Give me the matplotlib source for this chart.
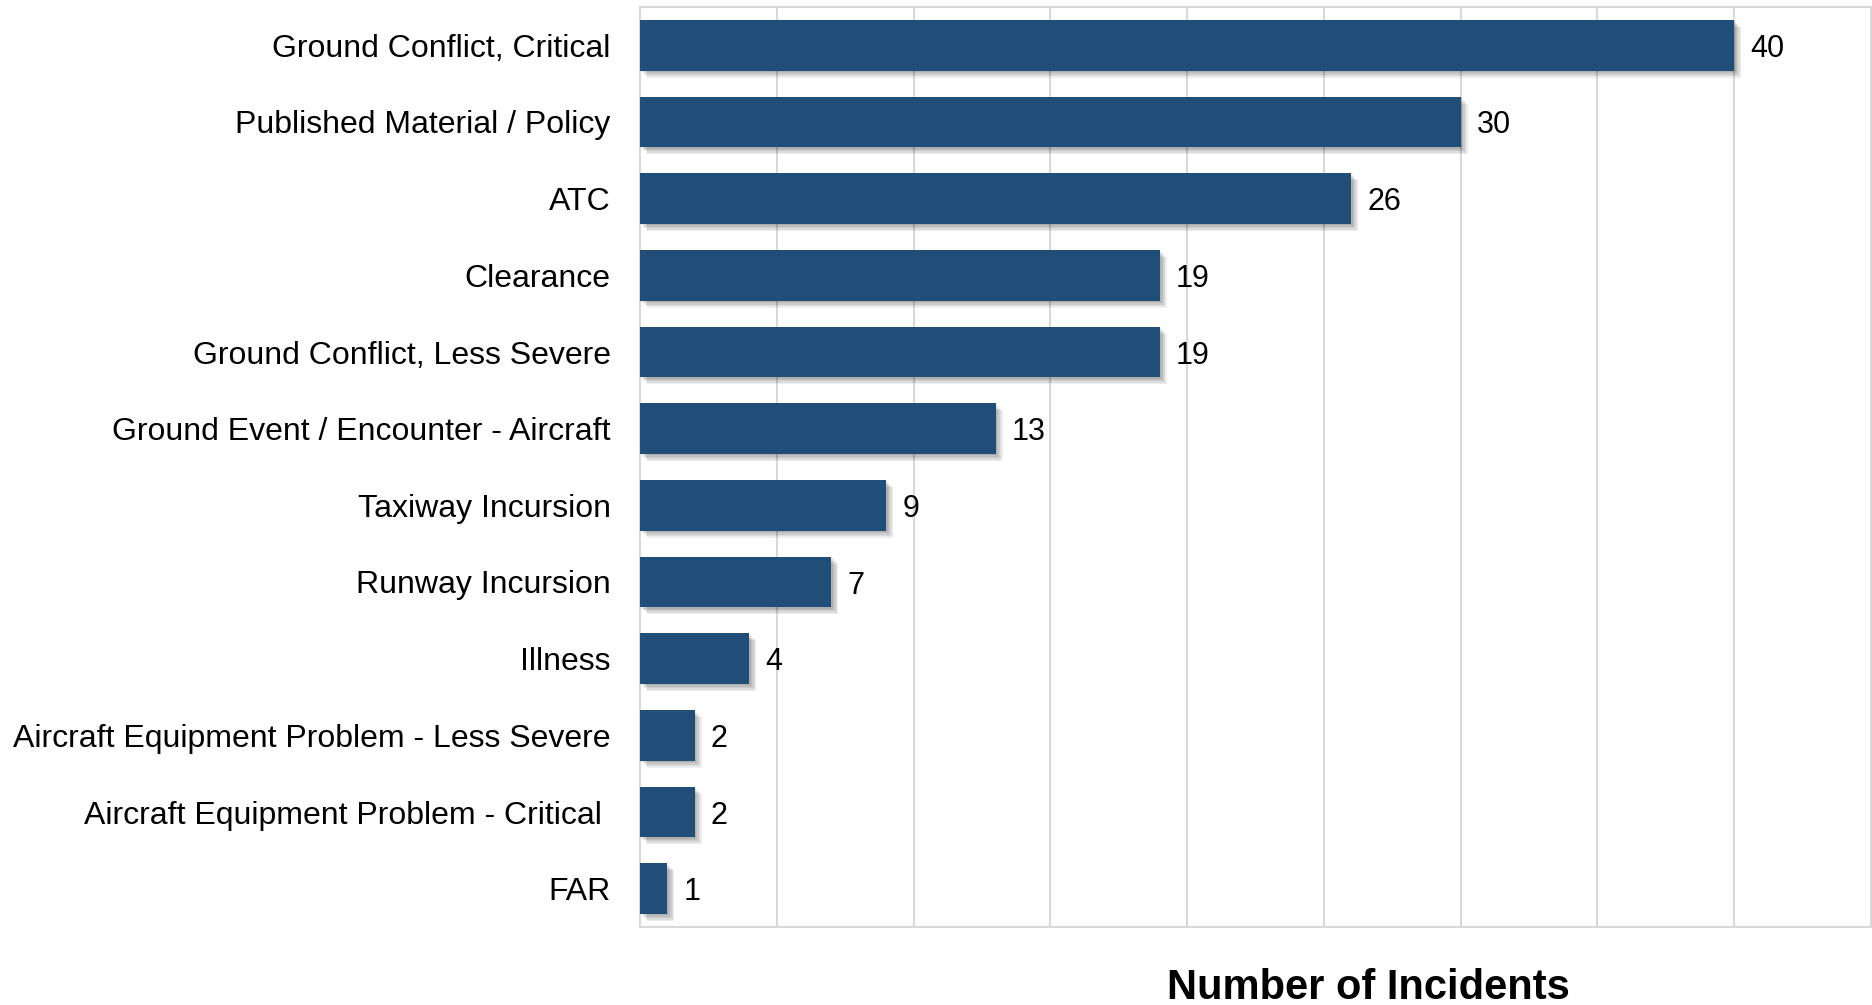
import matplotlib
matplotlib.use("Agg")
import matplotlib.pyplot as plt
import matplotlib.patheffects as pe
import numpy as np

categories = [
    "Ground Conflict, Critical",
    "Published Material / Policy",
    "ATC",
    "Clearance",
    "Ground Conflict, Less Severe",
    "Ground Event / Encounter - Aircraft",
    "Taxiway Incursion",
    "Runway Incursion",
    "Illness",
    "Aircraft Equipment Problem - Less Severe",
    "Aircraft Equipment Problem - Critical ",
    "FAR",
]
incidents = [40, 30, 26, 19, 19, 13, 9, 7, 4, 2, 2, 1]
x_label = "Number of Incidents"

plt.rcParams["font.family"] = ["Liberation Sans", "DejaVu Sans"]

bar_color = "#204E78"
grid_color = "#D9D9D9"

fig = plt.figure(figsize=(18.72, 10.05), dpi=100)
ax = fig.add_axes([640 / 1872, 1 - 927 / 1005, 1231 / 1872, 920 / 1005])

y = np.arange(len(categories))
bars = ax.barh(y, incidents, height=0.66, color=bar_color, zorder=3)

# soft drop shadow, built from a few faint offset copies
shadow = [pe.SimplePatchShadow(offset=(d, -d), shadow_rgbFace="#000000", alpha=0.07)
          for d in (1, 2, 3, 4, 5)]
for b in bars:
    b.set_path_effects(shadow + [pe.Normal()])

for yi, v in zip(y, incidents):
    ax.annotate(str(v), (v, yi), xytext=(11.5, 0), textcoords="offset points",
                ha="left", va="center_baseline", fontsize=22, color="black")

ax.set_xlim(0, 45)
ax.set_ylim(len(categories) - 0.5, -0.5)
ax.set_yticks(y)
ax.set_yticklabels(categories, fontsize=23)
ax.tick_params(axis="y", length=0, pad=21)
ax.set_xticks(np.arange(5, 45, 5))
ax.tick_params(axis="x", length=0, labelbottom=False)
ax.grid(axis="x", color=grid_color, linewidth=1.5, zorder=0)
for s in ax.spines.values():
    s.set_color(grid_color)
    s.set_linewidth(1.5)

fig.text(1368 / 1872, 1 - 988 / 1005, x_label, ha="center", va="center",
         fontsize=30, fontweight="bold")

fig.savefig("out.png", dpi=100)
